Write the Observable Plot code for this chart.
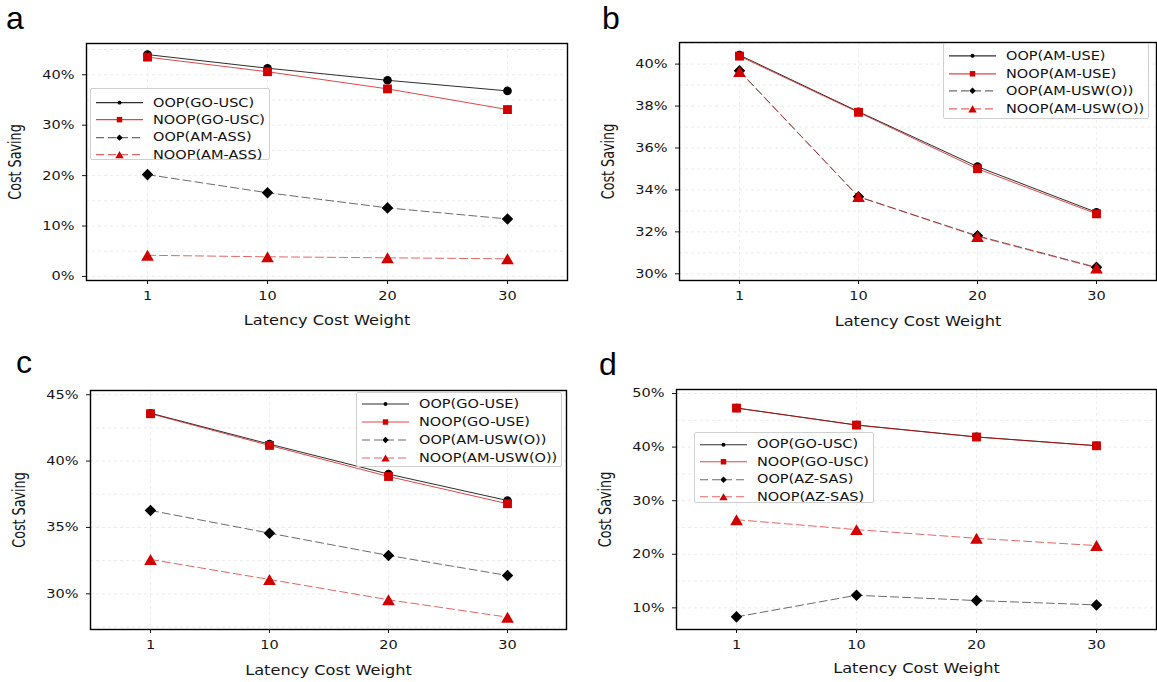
<!DOCTYPE html>
<html>
<head>
<meta charset="utf-8">
<script src="https://cdn.jsdelivr.net/npm/d3@7"></script>
<script src="https://cdn.jsdelivr.net/npm/@observablehq/plot@0.6"></script>
<style>
  html, body { margin: 0; padding: 0; background: #fff; }
  #fig { position: relative; width: 1157px; height: 682px; overflow: hidden; background: #fff; }
  .panel { position: absolute; }
  .panel > svg { font-family: "DejaVu Sans", Verdana, sans-serif !important; }
  .letter { position: absolute; font-family: "Liberation Sans", Arial, sans-serif; font-size: 32px; line-height: 30px; color: #000; }
  .legend { position: absolute; border: 1px solid #d0d0d0; background: rgba(255,255,255,0.85); border-radius: 2px; box-sizing: border-box; padding-left: 5px; padding-right: 4px; overflow: visible; }
  .legend .row { display: flex; align-items: center; white-space: nowrap; }
  .legend .lab { font-family: "DejaVu Sans", Verdana, sans-serif; font-size: 14.5px; color: #111; display: inline-block; transform: scaleY(0.86); margin-left: 10px; }
</style>
</head>
<body>
<div id="fig"></div>
<script>
// ---------------- data ----------------
const weights = [1, 10, 20, 30];
const weightLabels = ["1", "10", "20", "30"];
const xTitle = "Latency Cost Weight";
const yTitle = "Cost Saving";

// panel a
const aNames = ["OOP(GO-USC)", "NOOP(GO-USC)", "OOP(AM-ASS)", "NOOP(AM-ASS)"];
const aOOP1 = [44.0, 41.3, 38.9, 36.8];
const aNOOP1 = [43.5, 40.6, 37.2, 33.1];
const aOOP2 = [20.2, 16.6, 13.6, 11.4];
const aNOOP2 = [4.2, 3.9, 3.7, 3.5];
const aYTicks = [0, 10, 20, 30, 40];
const aYTickLabels = ["0%", "10%", "20%", "30%", "40%"];
const aGrid = [0, 5, 10, 15, 20, 25, 30, 35, 40, 45];

// panel b
const bNames = ["OOP(AM-USE)", "NOOP(AM-USE)", "OOP(AM-USW(O))", "NOOP(AM-USW(O))"];
const bOOP1 = [40.43, 37.73, 35.11, 32.93];
const bNOOP1 = [40.38, 37.70, 35.01, 32.86];
const bOOP2 = [39.68, 33.67, 31.81, 30.31];
const bNOOP2 = [39.65, 33.68, 31.78, 30.28];
const bYTicks = [30, 32, 34, 36, 38, 40];
const bYTickLabels = ["30%", "32%", "34%", "36%", "38%", "40%"];
const bGrid = [30, 31, 32, 33, 34, 35, 36, 37, 38, 39, 40, 41];

// panel c
const cNames = ["OOP(GO-USE)", "NOOP(GO-USE)", "OOP(AM-USW(O))", "NOOP(AM-USW(O))"];
const cOOP1 = [43.61, 41.28, 39.02, 37.03];
const cNOOP1 = [43.57, 41.18, 38.84, 36.79];
const cOOP2 = [36.28, 34.57, 32.89, 31.38];
const cNOOP2 = [32.59, 31.08, 29.55, 28.24];
const cYTicks = [30, 35, 40, 45];
const cYTickLabels = ["30%", "35%", "40%", "45%"];
const cGrid = [27.5, 30, 32.5, 35, 37.5, 40, 42.5, 45];

// panel d
const dNames = ["OOP(GO-USC)", "NOOP(GO-USC)", "OOP(AZ-SAS)", "NOOP(AZ-SAS)"];
const dOOP1 = [47.30, 44.12, 41.90, 40.26];
const dNOOP1 = [47.28, 44.11, 41.88, 40.25];
const dOOP2 = [8.32, 12.35, 11.36, 10.55];
const dNOOP2 = [26.45, 24.60, 22.98, 21.62];
const dYTicks = [10, 20, 30, 40, 50];
const dYTickLabels = ["10%", "20%", "30%", "40%", "50%"];
const dGrid = [10, 15, 20, 25, 30, 35, 40, 45, 50];

// ---------------- styles ----------------
const RED = "#d10000";
const FONT = "DejaVu Sans, Verdana, sans-serif";
// triangle centred on its bounding box (like matplotlib '^')
const triBox = {
  draw(ctx, size) {
    const s = Math.sqrt(size / (Math.sqrt(3) / 4));
    const h = s * Math.sqrt(3) / 2;
    ctx.moveTo(0, -h / 2);
    ctx.lineTo(s / 2, h / 2);
    ctx.lineTo(-s / 2, h / 2);
    ctx.closePath();
  }
};
const styles = [
  {color: "#000", lineOpacity: 0.82, dash: null, symbol: d3.symbolCircle, r: 4.3, legSize: 12},
  {color: RED, lineOpacity: 0.72, dash: null, symbol: d3.symbolSquare, r: 5, legSize: 30},
  {color: "#000", lineOpacity: 0.58, dash: "8,4", symbol: d3.symbolDiamond2, r: 5.2, legSize: 26},
  {color: RED, lineOpacity: 0.6, dash: "8,4", symbol: triBox, r: 4.7, legSize: 30}
];

// ---------------- layout ----------------
const panels = [
  {letter: "a", names: aNames, series: [aOOP1, aNOOP1, aOOP2, aNOOP2], yTicks: aYTicks, yLabels: aYTickLabels, grid: aGrid,
   yDomain: [-0.8, 46.2], left: 0, top: 0, width: 578, height: 341,
   mL: 86, mR: 11, mT: 43, mB: 61, xTitleDy: 40,
   legend: {x: 90, y: 88.3, padTop: 4.8, rowH: 17.3, h: 72}, letterPos: [6, 3]},
  {letter: "b", names: bNames, series: [bOOP1, bNOOP1, bOOP2, bNOOP2], yTicks: bYTicks, yLabels: bYTickLabels, grid: bGrid,
   yDomain: [29.68, 41.03], left: 578, top: 0, width: 579, height: 341,
   mL: 101, mR: 1, mT: 42, mB: 61, xTitleDy: 41,
   legend: {x: 365, y: 43.3, padTop: 2.9, rowH: 17.6, h: 76}, letterPos: [24, 3]},
  {letter: "c", names: cNames, series: [cOOP1, cNOOP1, cOOP2, cNOOP2], yTicks: cYTicks, yLabels: cYTickLabels, grid: cGrid,
   yDomain: [27.31, 45.32], left: 0, top: 341, width: 578, height: 341,
   mL: 90, mR: 12, mT: 49, mB: 53, xTitleDy: 41,
   legend: {x: 356, y: 50.7, padTop: 2.3, rowH: 18, h: 75}, letterPos: [16, 6]},
  {letter: "d", names: dNames, series: [dOOP1, dNOOP1, dOOP2, dNOOP2], yTicks: dYTicks, yLabels: dYTickLabels, grid: dGrid,
   yDomain: [5.96, 50.75], left: 578, top: 341, width: 579, height: 341,
   mL: 98, mR: 1, mT: 48, mB: 53, xTitleDy: 39,
   legend: {x: 116, y: 90.7, padTop: 2.9, rowH: 17.5, h: 71}, letterPos: [21, 8]}
];

const fig = d3.select("#fig");

for (const p of panels) {
  const marks = [
    Plot.gridY(p.grid, {stroke: "#e4e4e4", strokeOpacity: 1, strokeDasharray: "3,3", strokeWidth: 0.75}),
    Plot.gridX(weights, {stroke: "#e8e8e8", strokeOpacity: 1, strokeDasharray: "3,3", strokeWidth: 0.75})
  ];
  p.series.forEach((vals, k) => {
    const st = styles[k];
    const data = weights.map((w, i) => ({w, v: vals[i]}));
    marks.push(Plot.line(data, {x: "w", y: "v", stroke: st.color, strokeOpacity: st.lineOpacity,
      strokeWidth: 1, strokeDasharray: st.dash || undefined}));
    marks.push(Plot.dot(data, {x: "w", y: "v", symbol: st.symbol, r: st.r, fill: st.color, stroke: "none"}));
  });
  marks.push(
    Plot.frame({stroke: "#000", strokeWidth: 1.4}),
    Plot.axisY(p.yTicks, {tickFormat: d => p.yLabels[p.yTicks.indexOf(d)], tickSize: 4, tickPadding: 8,
      label: null, fontSize: 14.5}),
    Plot.axisX(weights, {tickFormat: d => weightLabels[weights.indexOf(d)], tickSize: 4, tickPadding: 7,
      label: null, fontSize: 14.5}),
    Plot.text([xTitle], {text: d => d, frameAnchor: "bottom", lineAnchor: "middle", textAnchor: "middle",
      dy: p.xTitleDy, fontSize: 16.2, fontFamily: FONT}),
    Plot.text([yTitle], {text: d => d, frameAnchor: "left", lineAnchor: "middle", textAnchor: "middle",
      dx: -71, rotate: -90, fontSize: 17, fontFamily: FONT})
  );

  const svg = Plot.plot({
    width: p.width, height: p.height,
    marginLeft: p.mL, marginRight: p.mR, marginTop: p.mT, marginBottom: p.mB,
    x: {type: "point", domain: weights, padding: 0.5},
    y: {domain: p.yDomain},
    style: {background: "transparent", color: "#151515", overflow: "visible"},
    marks
  });

  // mimic the vertically squashed text of the original
  d3.select(svg).selectAll("text").each(function () {
    const t = this.getAttribute("transform");
    if (!t) return;
    this.setAttribute("transform", t + (t.includes("rotate") ? " scale(0.75,1)" : " scale(1,0.84)"));
  });

  const panel = fig.append("div").attr("class", "panel")
    .style("left", p.left + "px").style("top", p.top + "px")
    .style("width", p.width + "px").style("height", p.height + "px");
  panel.node().appendChild(svg);

  panel.append("div").attr("class", "letter")
    .style("left", p.letterPos[0] + "px").style("top", p.letterPos[1] + "px").text(p.letter);

  const L = p.legend;
  const leg = panel.append("div").attr("class", "legend")
    .style("left", L.x + "px").style("top", L.y + "px")
    .style("height", L.h + "px").style("padding-top", L.padTop + "px");
  p.names.forEach((name, k) => {
    const st = styles[k];
    const row = leg.append("div").attr("class", "row").style("height", L.rowH + "px");
    const cy = L.rowH / 2;
    const s = row.append("svg").attr("width", 47).attr("height", L.rowH).style("flex", "none");
    s.append("line").attr("x1", 0).attr("x2", 47).attr("y1", cy).attr("y2", cy)
      .attr("stroke", st.color).attr("stroke-opacity", st.lineOpacity).attr("stroke-width", 1.2)
      .attr("stroke-dasharray", st.dash || null);
    s.append("path").attr("transform", `translate(23.5,${cy})`)
      .attr("d", d3.symbol(st.symbol, st.legSize)()).attr("fill", st.color);
    row.append("span").attr("class", "lab").text(name);
  });
}
</script>
</body>
</html>
